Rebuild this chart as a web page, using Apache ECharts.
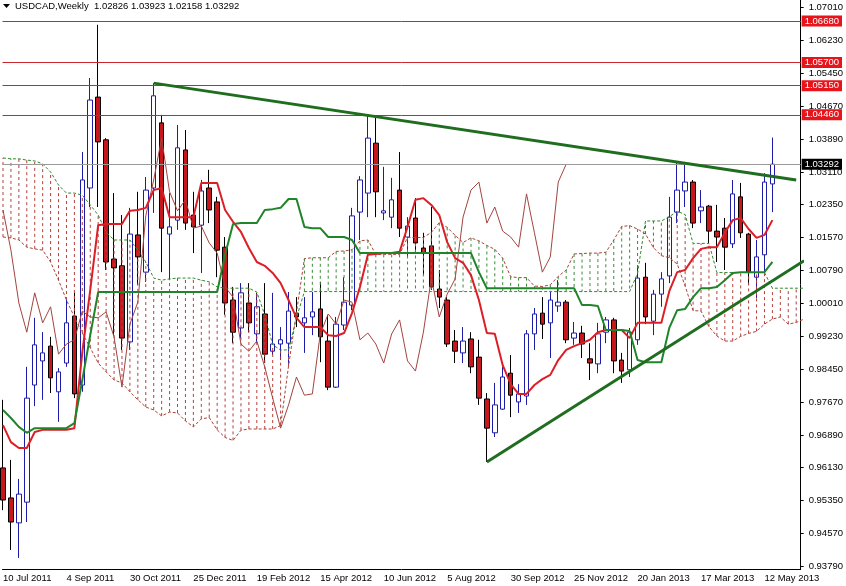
<!DOCTYPE html>
<html><head><meta charset="utf-8">
<script src="https://cdn.jsdelivr.net/npm/echarts@6/dist/echarts.min.js"></script>
<style>html,body{margin:0;padding:0;background:#fff}#c{width:846px;height:586px}</style>
</head><body><div id="c"></div>
<script>
const symbolName = 'USDCAD,Weekly';
const dateLabels = ['10 Jul 2011','4 Sep 2011','30 Oct 2011','25 Dec 2011','19 Feb 2012','15 Apr 2012','10 Jun 2012','5 Aug 2012','30 Sep 2012','25 Nov 2012','20 Jan 2013','17 Mar 2013','12 May 2013'];
const dateLabelBars = [0,8,16,24,32,40,48,56,64,72,80,88,96];
const priceTicks = [1.0701,1.0623,1.0545,1.0467,1.0389,1.0311,1.0235,1.0157,1.0079,1.0001,0.9923,0.9845,0.9767,0.9689,0.9613,0.9535,0.9457,0.9379];

const opens = [0.9611,0.9540,0.9481,0.9530,0.9807,0.9864,0.9899,0.9791,0.9859,0.9970,
0.9807,1.0273,1.0488,1.0387,1.0105,1.0089,0.9909,1.0162,1.0074,1.0273,
1.0427,1.0164,1.0197,1.0363,1.0209,1.0185,1.0273,1.0240,1.0133,1.0008,
0.9942,1.0001,0.9928,0.9975,0.9887,0.9904,0.9906,0.9977,0.9954,0.9968,
0.9987,0.9911,0.9802,0.9949,0.9996,1.0216,1.0261,1.0379,1.0214,1.0204,
1.0268,1.0157,1.0202,1.0131,1.0136,1.0034,1.0008,0.9911,0.9883,0.9916,
0.9873,0.9774,0.9694,0.9750,0.9835,0.9767,0.9781,0.9928,0.9977,0.9954,
0.9994,1.0003,0.9918,0.9930,0.9869,0.9857,0.9932,0.9961,0.9866,0.9843,
0.9914,1.0062,0.9958,1.0022,1.0065,1.0216,1.0266,1.0287,1.0219,1.0230,
1.0171,1.0178,1.0141,1.0252,1.0164,1.0062,1.0115,1.02826];
const closes = [0.9535,0.9483,0.9549,0.9776,0.9902,0.9883,0.9824,0.9838,0.9954,0.9786,
1.0292,1.0481,1.0382,1.0098,1.0084,0.9918,1.0164,1.0110,1.0268,1.0491,
1.0178,1.0181,1.0368,1.0190,1.0181,1.0266,1.0221,1.0126,1.0001,0.9932,
1.0025,0.9954,0.9992,0.9880,0.9904,0.9914,0.9982,0.9968,0.9966,0.9980,
0.9921,0.9802,0.9951,1.0003,1.0207,1.0292,1.0391,1.0264,1.0219,1.0245,
1.0178,1.0183,1.0143,1.0119,1.0039,1.0015,0.9904,0.9887,0.9911,0.9850,
0.9776,0.9705,0.9760,0.9826,0.9783,0.9786,0.9928,0.9975,0.9951,1.0008,
1.0003,0.9914,0.9930,0.9904,0.9859,0.9928,0.9961,0.9864,0.9840,0.9932,
1.0060,0.9968,1.0022,1.0058,1.0204,1.0268,1.0287,1.0190,1.0228,1.0171,
1.0157,1.0133,1.0259,1.0167,1.0074,1.0110,1.0287,1.03292];
const highs = [0.9772,0.9630,0.9585,0.9850,0.9966,0.9932,0.9921,0.9847,1.0008,1.0025,
1.0358,1.0533,1.0659,1.0391,1.0261,1.0209,1.0226,1.0264,1.0299,1.0521,
1.0446,1.0261,1.0422,1.0410,1.0264,1.0292,1.0316,1.0252,1.0157,1.0039,
1.0048,1.0048,1.0025,1.0048,1.0025,0.9944,1.0027,1.0015,1.0015,1.0027,
1.0051,0.9973,0.9968,1.0062,1.0226,1.0301,1.0446,1.0441,1.0323,1.0297,
1.0358,1.0204,1.0249,1.0167,1.0228,1.0079,1.0015,0.9937,0.9944,0.9932,
0.9914,0.9788,0.9812,0.9850,0.9878,0.9809,0.9937,0.9989,1.0015,1.0027,
1.0055,1.0008,0.9956,0.9947,0.9906,0.9954,0.9968,0.9966,0.9883,0.9942,
1.0091,1.0096,1.0032,1.0074,1.0252,1.0334,1.0332,1.0292,1.0268,1.0233,
1.0233,1.0202,1.0292,1.0285,1.0167,1.0150,1.0308,1.03923];
const lows = [0.9511,0.9417,0.9398,0.9483,0.9757,0.9772,0.9788,0.9720,0.9850,0.9776,
0.9791,1.0228,1.0228,1.0079,0.9925,0.9890,0.9890,1.0044,1.0051,1.0214,
1.0074,1.0055,1.0174,1.0174,1.0119,1.0072,1.0190,1.0062,0.9973,0.9906,
0.9918,0.9932,0.9906,0.9859,0.9878,0.9866,0.9854,0.9944,0.9883,0.9925,
0.9861,0.9795,0.9800,0.9937,0.9984,1.0150,1.0204,1.0204,1.0197,1.0178,
1.0157,1.0110,1.0119,1.0067,1.0032,0.9989,0.9897,0.9859,0.9859,0.9835,
0.9760,0.9625,0.9684,0.9748,0.9731,0.9741,0.9760,0.9890,0.9916,0.9871,
0.9980,0.9906,0.9902,0.9871,0.9819,0.9835,0.9906,0.9835,0.9812,0.9826,
0.9902,0.9951,0.9925,0.9992,1.0048,1.0190,1.0228,1.0178,1.0190,1.0143,
1.0098,1.0079,1.0131,1.0155,1.0044,1.0013,1.0074,1.02158];

const tenkan = [0.9712,0.9672,0.9658,0.9658,0.9696,0.9701,0.9701,0.9701,0.9701,0.9705,
0.9885,1.0032,1.0185,1.0188,1.0188,1.0188,1.0219,1.0221,1.0226,1.0268,
1.0273,1.0204,1.0204,1.0204,1.0204,1.0285,1.0285,1.0285,1.0221,1.0193,
1.0169,1.0131,1.0098,1.0089,1.0072,1.0048,1.0008,0.9966,0.9944,0.9944,
0.9944,0.9925,0.9923,0.9930,0.9977,1.0039,1.0115,1.0117,1.0119,1.0119,
1.0122,1.0181,1.0245,1.0249,1.0233,1.0209,1.0145,1.0107,1.0096,1.0067,
1.0008,0.9930,0.9928,0.9854,0.9809,0.9786,0.9786,0.9807,0.9821,0.9831,
0.9866,0.9890,0.9899,0.9906,0.9914,0.9932,0.9937,0.9937,0.9937,0.9918,
0.9954,0.9954,0.9954,0.9954,1.0029,1.0074,1.0079,1.0107,1.0129,1.0133,
1.0133,1.0167,1.0197,1.0202,1.0176,1.0155,1.0162,1.0197];
const kijun = [0.9748,0.9729,0.9708,0.9694,0.9705,0.9705,0.9705,0.9705,0.9705,0.9717,
0.9819,0.9925,1.0027,1.0027,1.0027,1.0027,1.0027,1.0027,1.0027,1.0027,
1.0027,1.0027,1.0027,1.0027,1.0027,1.0027,1.0027,1.0027,1.0115,1.0188,
1.0190,1.0190,1.0190,1.0221,1.0223,1.0226,1.0247,1.0247,1.0181,1.0178,
1.0178,1.0157,1.0157,1.0157,1.0150,1.0119,1.0119,1.0119,1.0119,1.0119,
1.0119,1.0119,1.0119,1.0119,1.0119,1.0119,1.0119,1.0119,1.0119,1.0119,
1.0074,1.0036,1.0036,1.0036,1.0036,1.0036,1.0036,1.0036,1.0036,1.0036,
1.0036,1.0036,1.0036,0.9996,0.9996,0.9994,0.9937,0.9937,0.9937,0.9935,
0.9866,0.9861,0.9861,0.9861,0.9942,0.9984,0.9987,1.0015,1.0036,1.0036,
1.0039,1.0055,1.0072,1.0074,1.0074,1.0074,1.0074,1.0098];
const senkouA = [1.0157,1.0155,1.0150,1.0133,1.0129,1.0126,1.0098,1.0055,1.0008,0.9968,
0.9930,0.9895,0.9859,0.9838,0.9819,0.9812,0.9791,0.9772,0.9755,0.9748,
0.9734,0.9743,0.9741,0.9722,0.9708,0.9727,0.9730,0.9701,0.9683,0.9676,
0.9700,0.9703,0.9703,0.9703,0.9703,0.9711,0.9852,0.9979,1.0106,1.0108,
1.0108,1.0108,1.0123,1.0124,1.0127,1.0148,1.0150,1.0116,1.0116,1.0116,
1.0116,1.0156,1.0156,1.0156,1.0168,1.0191,1.0180,1.0161,1.0144,1.0155,
1.0148,1.0137,1.0128,1.0107,1.0063,1.0061,1.0061,1.0041,1.0040,1.0044,
1.0064,1.0079,1.0117,1.0118,1.0119,1.0119,1.0121,1.0150,1.0182,1.0184,
1.0176,1.0164,1.0132,1.0113,1.0108,1.0093,1.0041,0.9983,0.9982,0.9945,
0.9923,0.9911,0.9911,0.9922,0.9929,0.9934,0.9951,0.9963,0.9968,0.9951,
0.9955,0.9963];
const senkouB = [1.0344,1.0342,1.0342,1.0339,1.0337,1.0330,1.0311,1.0280,1.0261,1.0261,
1.0256,1.0233,1.0209,1.0169,1.0150,1.0150,1.0150,1.0126,1.0098,1.0060,
1.0055,1.0058,1.0060,1.0060,1.0060,1.0055,1.0051,1.0039,1.0036,1.0036,
1.0036,1.0036,1.0027,0.9973,0.9902,0.9890,0.9890,0.9966,1.0028,1.0028,
1.0028,1.0028,1.0028,1.0028,1.0028,1.0028,1.0028,1.0028,1.0028,1.0028,
1.0028,1.0028,1.0028,1.0028,1.0028,1.0028,1.0028,1.0028,1.0028,1.0028,
1.0028,1.0028,1.0028,1.0028,1.0028,1.0028,1.0028,1.0028,1.0028,1.0028,
1.0028,1.0028,1.0028,1.0028,1.0028,1.0028,1.0028,1.0028,1.0028,1.0028,
1.0071,1.0195,1.0195,1.0195,1.0205,1.0218,1.0210,1.0142,1.0142,1.0142,
1.0073,1.0073,1.0073,1.0073,1.0073,1.0073,1.0073,1.0036,1.0036,1.0036,
1.0036,1.0036];
const chikouShift = 26;

const levelLines = [1.0668, 1.0570, 1.0515, 1.0446];
const lastPrice = 1.03292;
const resistanceLine = [[19, 1.0521], [100, 1.0292]];
const supportLine = [[61, 0.9625], [101, 1.0101]];

const FONT = '"Liberation Sans", Arial, sans-serif';
const FS = 9.5;

const chart = echarts.init(document.getElementById('c'), null, {renderer: 'canvas'});
const candleData = opens.map((o, i) => [i, o, closes[i], lows[i], highs[i]]);
const toLine = arr => arr.map((v, i) => [i, v]);
const chikou = closes.slice(chikouShift).map((v, i) => [i, v]);
const cloudData = senkouA.map((a, i) => [i, a, senkouB[i]]);
const last = opens.length - 1;
const header = symbolName + '  ' + [opens[last], highs[last], lows[last], closes[last]].map(v => v.toFixed(5)).join(' ');

const boxLabel = (bg) => ({
  show: true, position: 'end', distance: 1,
  formatter: p => Number(p.value).toFixed(5),
  color: '#fff', backgroundColor: bg, padding: [1, 3, 0, 3],
  fontSize: FS, fontFamily: FONT, lineHeight: 10
});

const markData = levelLines.map(v => ({
  yAxis: v, lineStyle: {color: '#c62a30', width: 1, type: 'solid'}, label: boxLabel('#e8141c')
}));
markData.push({yAxis: lastPrice, lineStyle: {color: '#9a9a9a', width: 1, type: 'solid'}, label: boxLabel('#000')});

const option = {
  animation: false,
  backgroundColor: '#fff',
  grid: {left: 0, right: 41, top: 0, bottom: 17},
  xAxis: {
    type: 'value', min: -0.0625, max: 100.5625,
    axisLine: {show: true, onZero: false, lineStyle: {color: '#000', width: 1}},
    axisTick: {show: false},
    splitLine: {show: false},
    axisLabel: {
      customValues: dateLabelBars,
      formatter: v => { const i = dateLabelBars.indexOf(Math.round(v)); return i >= 0 ? dateLabels[i] : ''; },
      align: 'left', color: '#000', fontSize: FS, fontFamily: FONT, margin: 4
    }
  },
  yAxis: {
    type: 'value', position: 'right', min: 0.93719, max: 1.07176, scale: true,
    axisLine: {show: true, onZero: false, lineStyle: {color: '#000', width: 1}},
    axisTick: {show: true, customValues: priceTicks, length: 3, lineStyle: {color: '#000'}},
    splitLine: {show: false},
    axisLabel: {
      customValues: priceTicks, formatter: v => Number(v).toFixed(5),
      color: '#000', fontSize: FS, fontFamily: FONT, margin: 8
    }
  },
  graphic: [
    {type: 'polygon', shape: {points: [[3, 4], [10, 4], [6.5, 8]]}, style: {fill: '#000'}, z: 100},
    {type: 'text', x: 15, y: 1, style: {text: header, font: FS + 'px ' + FONT, fill: '#000'}, z: 100}
  ],
  series: [
    {
      type: 'candlestick', data: candleData, barWidth: 5, z: 2, silent: true,
      itemStyle: {color: '#ffffff', color0: '#c8161d', borderColor: '#1c1ca8', borderColor0: '#000000', borderWidth: 1},
      markLine: {symbol: ['none', 'none'], silent: true, animation: false, precision: 5, data: markData}
    },
    {
      type: 'custom', z: 3, silent: true, clip: true,
      data: cloudData, encode: {x: 0, y: [1, 2]},
      renderItem: (params, api) => {
        const k = api.value(0), a = api.value(1), b = api.value(2);
        const pa = api.coord([k, a]), pb = api.coord([k, b]);
        return {
          type: 'line',
          shape: {x1: pa[0], y1: pa[1], x2: pb[0], y2: pb[1]},
          style: {stroke: b > a ? '#b3403c' : '#3a8c3a', lineWidth: 1, lineDash: [3, 3]}
        };
      }
    },
    {type: 'line', data: toLine(senkouA), showSymbol: false, silent: true, z: 3,
     lineStyle: {color: '#a8443a', width: 1, type: [3, 2]}},
    {type: 'line', data: toLine(senkouB), showSymbol: false, silent: true, z: 3,
     lineStyle: {color: '#2f8a2f', width: 1, type: [3, 2]}},
    {type: 'line', data: chikou, showSymbol: false, silent: true, z: 4,
     lineStyle: {color: '#a2443f', width: 1}},
    {type: 'line', data: toLine(tenkan), showSymbol: false, silent: true, z: 5,
     lineStyle: {color: '#dc1e26', width: 2}},
    {type: 'line', data: toLine(kijun), showSymbol: false, silent: true, z: 6,
     lineStyle: {color: '#20842a', width: 2}},
    {type: 'line', data: resistanceLine, showSymbol: false, silent: true, z: 7,
     lineStyle: {color: '#1f6d1f', width: 3}},
    {type: 'line', data: supportLine, showSymbol: false, silent: true, z: 7, clip: true,
     lineStyle: {color: '#1f6d1f', width: 3}}
  ]
};
chart.setOption(option);
</script>
</body></html>
